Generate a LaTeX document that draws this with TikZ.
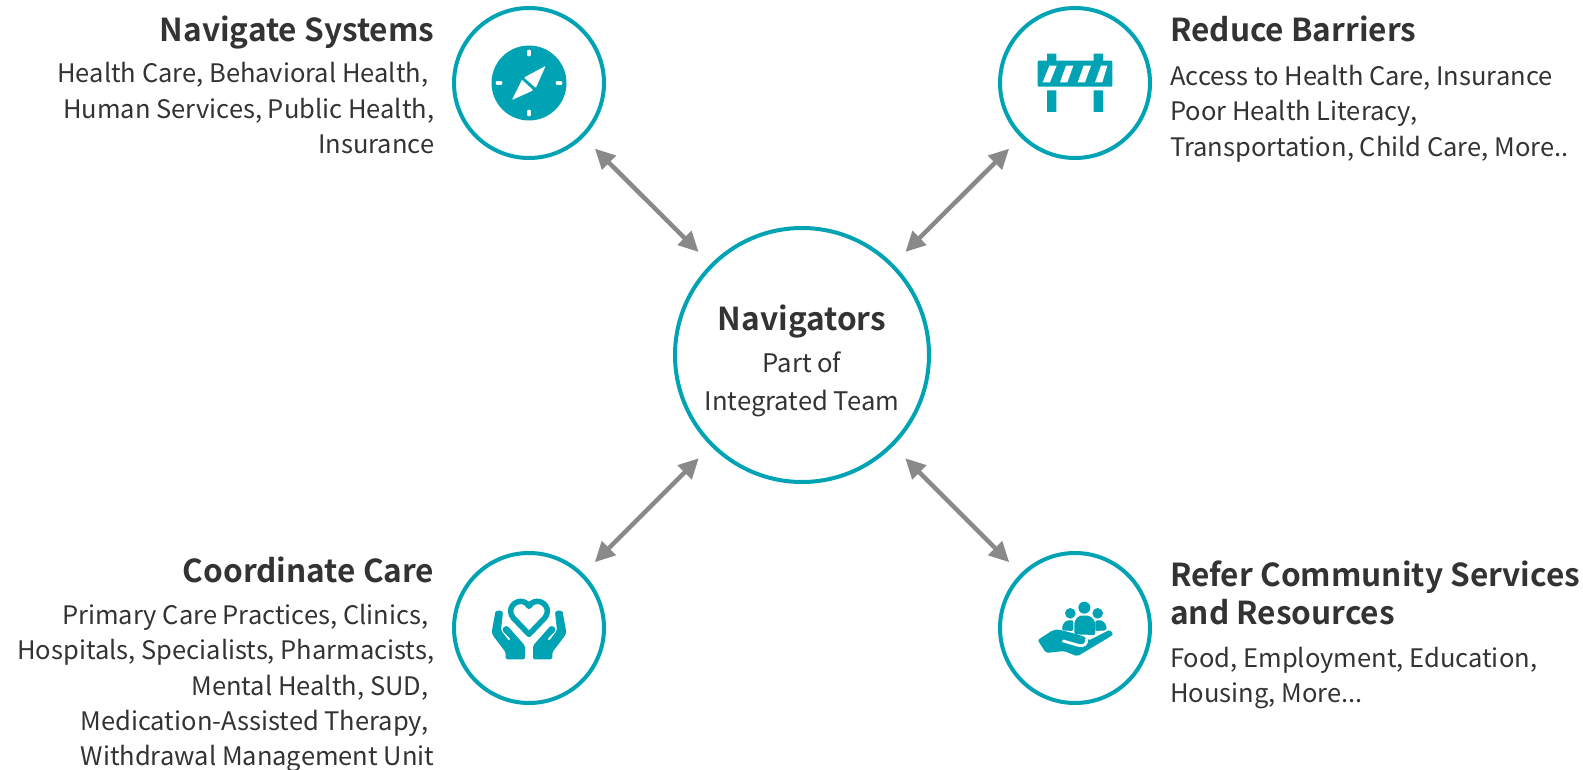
\documentclass[tikz,border=0pt]{standalone}
\usepackage{fontspec}
\usetikzlibrary{arrows.meta}
\setmainfont{Noto Sans CJK SC}[BoldFont={Noto Sans CJK SC Bold}]
\definecolor{teal1}{HTML}{00A3B4}
\definecolor{txt}{HTML}{333333}
\definecolor{arr}{HTML}{898989}
\tikzset{
  x=1pt,y=-1pt,
  ring/.style={circle,draw=teal1,line width=4pt,fill=white,minimum size=150pt,inner sep=0pt,outer sep=.5\pgflinewidth},
  bigring/.style={ring,minimum size=254pt},
  head/.style={text=txt,inner sep=0pt,font=\fontsize{31.6}{38}\selectfont\bfseries},
  bodyr/.style={text=txt,inner sep=0pt,align=right,anchor=north east,font=\fontsize{25.5}{35.3}\selectfont},
  bodyl/.style={text=txt,inner sep=0pt,align=left,anchor=north west,font=\fontsize{25.5}{35.3}\selectfont},
  centre/.style={text=txt,inner sep=0pt,anchor=base,font=\fontsize{25.6}{30}\selectfont},
  link/.style={draw=arr,line width=4.5pt,{Triangle[length=20pt,width=19pt]}-{Triangle[length=20pt,width=19pt]},shorten <=16pt,shorten >=17pt},
  icon/.style={x=.33333pt,y=-.33333pt},
  ink/.style={fill=teal1,draw=none},
  paper/.style={fill=white,draw=none}
}
\newcommand\handshape{\fill[ink,rounded corners=1.5pt] (197,343) -- (197,322) -- (160,273) -- (155,262) -- (165,207) .. controls (167,194) and (190,194) .. (188,210) -- (183,256) -- (207,288) -- (213,283) -- (192,262) .. controls (182,250) and (198,238) .. (208,249) -- (248,294) .. controls (253,300) and (255,306) .. (255,312) -- (255,343) -- cycle;}
\begin{document}
\begin{tikzpicture}
\useasboundingbox (0,0) rectangle (1583,770);
\node[ring] (tl) at (529,83) {};
\node[ring] (tr) at (1075,83) {};
\node[ring] (bl) at (529,628) {};
\node[ring] (br) at (1075,628) {};
\node[bigring] (c) at (802,355) {};
\draw[link] (tl) -- (c);
\draw[link] (tr) -- (c);
\draw[link] (bl) -- (c);
\draw[link] (br) -- (c);
% centre text
\node[head,anchor=base] (ct) at (802,330) {Navigators};
\node[centre] (c1) at (802,372) {Part of};
\node[centre] (c2) at (802,410) {Integrated Team};
% titles
\node[head,anchor=base east] (t1) at (434.5,42) {Navigate Systems};
\node[head,anchor=base west] (t2) at (1170,42) {Reduce Barriers};
\node[head,anchor=base east] (t3) at (434.5,582) {Coordinate Care};
\node[head,anchor=base west] (t4) at (1170,586) {Refer Community Services};
\node[head,anchor=base west] (t4b) at (1170,624) {and Resources};
% bodies
\node[bodyr] (b1) at (434.5,62.5) {Health Care, Behavioral Health,\hspace*{6pt}\kern0pt\\Human Services, Public Health,\\Insurance};
\node[bodyl] (b2) at (1170,65) {Access to Health Care, Insurance\\Poor Health Literacy,\\Transportation, Child Care, More..};
\node[bodyr] (b3) at (434.5,604) {Primary Care Practices, Clinics,\hspace*{6pt}\kern0pt\\Hospitals, Specialists, Pharmacists,\\Mental Health, SUD,\hspace*{6pt}\kern0pt\\Medication-Assisted Therapy,\hspace*{6pt}\kern0pt\\Withdrawal Management Unit};
\node[bodyl] (b4) at (1170,646.5) {Food, Employment, Education,\\Housing, More...};
% compass
\begin{scope}[shift={(529,83)}]
\fill[teal1] (0,0) circle (37.5pt);
\draw[white,line width=3.3pt,line cap=round] (0,-31.7) -- (0,-28.3) (0,28.3) -- (0,31.7) (-31.7,0) -- (-28.3,0) (28.3,0) -- (31.7,0);
\fill[white,rounded corners=.8pt] (16.6,-17) -- (-5,-5.5) -- (6.8,5) -- cycle;
\fill[white,rounded corners=.8pt] (-17,17) -- (-7,-3.3) -- (4.3,7.3) -- cycle;
\end{scope}
% barrier
\begin{scope}[shift={(990,0)},icon]
\fill[ink,rounded corners=1pt] (143,182) rectangle (367,260);
\fill[ink] (171,161) rectangle (199,185) (311,161) rectangle (339,185);
\fill[ink] (171,271) rectangle (199,336) (311,271) rectangle (339,336);
\fill[paper] (158,247) -- (180,247) -- (200,197) -- (178,197) -- cycle;
\fill[paper] (210,247) -- (232,247) -- (250,197) -- (228,197) -- cycle;
\fill[paper] (263,247) -- (285,247) -- (303,197) -- (281,197) -- cycle;
\fill[paper] (315,247) -- (337,247) -- (352,197) -- (333,197) -- cycle;
\end{scope}
% hands and heart
\begin{scope}[shift={(440,545)},icon]
\draw[teal1,line width=5.5pt,line join=round] (267,268) -- (220,219) .. controls (198,192) and (225,163) .. (250,170) .. controls (258,172) and (264,178) .. (267,184) .. controls (270,178) and (276,172) .. (284,170) .. controls (309,163) and (336,192) .. (314,219) -- cycle;
\handshape
\begin{scope}[shift={(534,0)},xscale=-1]
\handshape
\end{scope}
\end{scope}
% people and hand
\begin{scope}[shift={(990,545)},icon]
\fill[ink] (283,188) circle (6pt) (241,205) circle (5.3pt) (323,205) circle (5.3pt);
\fill[ink,rounded corners=1.5pt] (216,256) -- (218,238) -- (230,226) -- (250,226) -- (250,258) -- cycle;
\fill[ink,rounded corners=1.5pt] (350,256) -- (348,238) -- (336,226) -- (316,226) -- (316,258) -- cycle;
\fill[ink,rounded corners=2pt] (253,268) -- (253,230) -- (266,212) -- (300,212) -- (316,230) -- (316,270) -- cycle;
\fill[ink,rounded corners=2pt] (143,285) -- (188,256) -- (205,253) -- (272,271) -- (288,278) -- (295,287) -- (350,259) .. controls (360,254) and (372,266) .. (362,274) -- (262,334) -- (222,318) -- (168,324) -- cycle;
\draw[white,line width=2.8pt,line cap=round] (220,288) -- (265,301) .. controls (282,306) and (292,296) .. (290,282);
\end{scope}
\end{tikzpicture}
\end{document}
